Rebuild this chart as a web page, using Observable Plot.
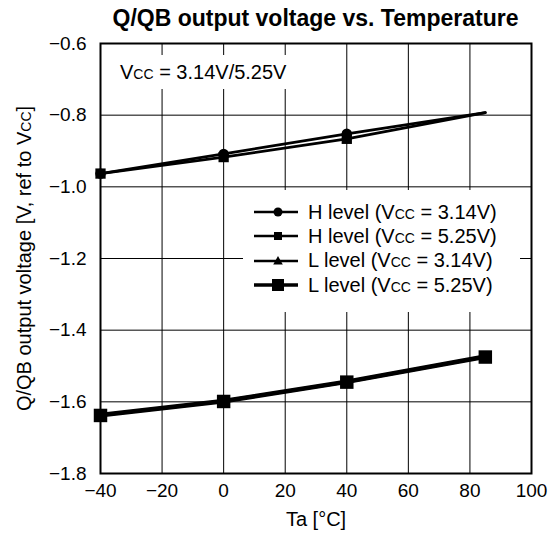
<!DOCTYPE html>
<html>
<head>
<meta charset="utf-8">
<script src="https://cdn.jsdelivr.net/npm/d3@7"></script>
<script src="https://cdn.jsdelivr.net/npm/@observablehq/plot@0.6"></script>
<style>
  body { margin: 0; background: #fff; }
  #wrap { position: relative; width: 557px; height: 533px; font-family: "Liberation Sans", Arial, Helvetica, sans-serif; color: #000; }
  #title { height: 30px; box-sizing: border-box; padding-top: 6px; line-height: 24px; font-size: 23px; font-weight: bold; margin-left: 100px; width: 431px; text-align: center; white-space: nowrap; }
  .sc { font-variant: small-caps; }
  #note { position: absolute; left: 110px; top: 55px; width: 185px; height: 34px; background: #fff; font-size: 20px; }
  #note span.t { position: absolute; left: 10px; top: 6px; line-height: 22px; white-space: nowrap; }
  #legend { position: absolute; left: 243px; top: 190px; width: 277px; height: 122px; background: #fff; box-sizing: border-box; padding-top: 10px; font-size: 20px; }
  .row { display: flex; align-items: center; height: 24.3px; white-space: nowrap; }
  .row svg { margin-left: 11px; margin-right: 10px; flex: none; }
</style>
</head>
<body>
<div id="wrap">
  <div id="title"></div>
  <div id="chart"></div>
  <div id="note"></div>
  <div id="legend"></div>
</div>
<script>
// ---- data ----
const titleText = "Q/QB output voltage vs. Temperature";
const xLabel = "Ta [°C]";
const yLabel = "Q/QB output voltage [V, ref to Vcc]";
const noteText = "Vcc = 3.14V/5.25V";

const temps = [-40, 0, 40, 85];
const hLevel314 = [-0.963, -0.908, -0.852, -0.793];
const hLevel525 = [-0.963, -0.917, -0.866, -0.793];
const lLevel314 = [-1.636, -1.597, -1.543, -1.473];
const lLevel525 = [-1.638, -1.599, -1.545, -1.475];

const seriesNames = ["H level (Vcc = 3.14V)", "H level (Vcc = 5.25V)", "L level (Vcc = 3.14V)", "L level (Vcc = 5.25V)"];
const seriesValues = [hLevel314, hLevel525, lLevel314, lLevel525];
const seriesSymbols = ["circle", "square", "triangle", "square"];

const xTicks = [-40, -20, 0, 20, 40, 60, 80, 100];
const yTicks = [-1.8, -1.6, -1.4, -1.2, -1.0, -0.8, -0.6];

// ---- styles per series ----
const lineWidths = [2.7, 2.7, 4, 4];
const dotR = [5.2, 5.8, 3.5, 7.6];

const rows = [];
seriesNames.forEach((name, i) => {
  temps.forEach((t, j) => rows.push({series: name, idx: i, t, v: seriesValues[i][j], j}));
});
// H-level curves carry markers only at the measured points -40, 0, 40
const marked = rows.filter(d => d.idx >= 2 || d.j < 3);

function ccHtml(s) {
  return s.replace(/Vcc/g, 'V<span class="sc">cc</span>');
}

document.getElementById("title").textContent = titleText;

const plot = Plot.plot({
  width: 557,
  height: 503,
  marginTop: 13,
  marginBottom: 60,
  marginLeft: 100,
  marginRight: 26,
  style: {fontFamily: "'Liberation Sans', Arial, Helvetica, sans-serif", fontSize: "19px", color: "#000", background: "#fff"},
  x: {domain: [-40, 100]},
  y: {domain: [-1.8, -0.6]},
  marks: [
    Plot.gridX(xTicks, {stroke: "#000", strokeOpacity: 1, strokeWidth: 1}),
    Plot.gridY(yTicks, {stroke: "#000", strokeOpacity: 1, strokeWidth: 1}),
    Plot.axisX(xTicks, {tickSize: 0, tickPadding: 10, label: null, tickFormat: d3.format("d"), fontSize: 19}),
    Plot.axisY(yTicks, {tickSize: 0, tickPadding: 14, label: null, tickFormat: d3.format(".1f"), fontSize: 19}),
    Plot.line(rows, {x: "t", y: "v", z: "series", stroke: "#000", strokeWidth: d => lineWidths[d.idx], strokeLinejoin: "miter"}),
    Plot.dot(marked.filter(d => d.idx === 0), {x: "t", y: "v", r: dotR[0], symbol: "circle", fill: "#000", stroke: "none"}),
    Plot.dot(marked.filter(d => d.idx === 1), {x: "t", y: "v", r: dotR[1], symbol: "square", fill: "#000", stroke: "none"}),
    Plot.dot(marked.filter(d => d.idx === 2), {x: "t", y: "v", r: dotR[2], symbol: "triangle", fill: "#000", stroke: "none"}),
    Plot.dot(marked.filter(d => d.idx === 3), {x: "t", y: "v", r: dotR[3], symbol: "square", fill: "#000", stroke: "none"}),
    Plot.frame({stroke: "#000", strokeWidth: 2}),
    Plot.text([yLabel], {frameAnchor: "left", text: d => d, rotate: -90, dx: -70, textAnchor: "middle", lineAnchor: "bottom", fontSize: 20, fill: "#000"}),
    Plot.text([xLabel], {frameAnchor: "bottom", text: d => d, dy: 52, textAnchor: "middle", lineAnchor: "bottom", fontSize: 20, fill: "#000"})
  ]
});
document.getElementById("chart").appendChild(plot);

// small-caps "cc" in SVG texts
plot.querySelectorAll("text").forEach(el => {
  if (el.children.length === 0 && el.textContent.includes("Vcc")) {
    const parts = el.textContent.split("Vcc");
    el.textContent = "";
    parts.forEach((p, k) => {
      el.appendChild(document.createTextNode(p + (k < parts.length - 1 ? "V" : "")));
      if (k < parts.length - 1) {
        const ts = document.createElementNS("http://www.w3.org/2000/svg", "tspan");
        ts.setAttribute("font-variant", "small-caps");
        ts.style.fontVariant = "small-caps";
        ts.textContent = "cc";
        el.appendChild(ts);
      }
    });
  }
});

// annotation
document.getElementById("note").innerHTML = '<span class="t">' + ccHtml(noteText) + '</span>';

// legend
function symbolSvg(i) {
  const w = 44, h = 24, cx = 24, cy = 12;
  let m = "";
  if (seriesSymbols[i] === "circle") m = `<circle cx="${cx}" cy="${cy}" r="4.5" fill="#000"/>`;
  else if (seriesSymbols[i] === "triangle") m = `<polygon points="${cx},${cy-5} ${cx+4.8},${cy+3.5} ${cx-4.8},${cy+3.5}" fill="#000"/>`;
  else {
    const s = i === 3 ? 12 : 8;
    m = `<rect x="${cx - s/2}" y="${cy - s/2}" width="${s}" height="${s}" fill="#000"/>`;
  }
  const sw = i === 3 ? 3.3 : 2.7;
  return `<svg width="${w}" height="${h}"><line x1="0" x2="${w}" y1="${cy}" y2="${cy}" stroke="#000" stroke-width="${sw}"/>${m}</svg>`;
}
document.getElementById("legend").innerHTML = seriesNames.map((n, i) =>
  `<div class="row">${symbolSvg(i)}<span>${ccHtml(n)}</span></div>`).join("");
</script>
</body>
</html>
